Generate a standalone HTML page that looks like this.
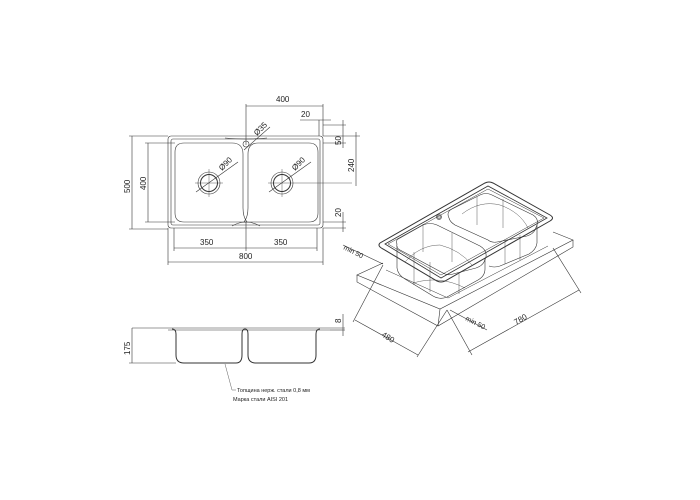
<!DOCTYPE html>
<html><head><meta charset="utf-8"><style>
html,body{margin:0;padding:0;background:#fff;}
svg{display:block;font-family:"Liberation Sans","Noto Sans CJK SC",sans-serif;}
text{font-size:8px;fill:#222;}
</style></head><body>
<svg width="700" height="500" viewBox="0 0 700 500" xmlns="http://www.w3.org/2000/svg">
<g fill="none" stroke="#333" stroke-width="0.6">
<!-- TOP VIEW -->
<rect x="168" y="136" width="155" height="92" rx="3"/>
<rect x="171" y="139" width="149" height="86" rx="2"/>
<path d="M184,143 H232 Q243,143 243,154 V208 Q243,217 247,222 H184 Q175,222 175,213 V152 Q175,143 184,143 Z"/>
<path d="M258,143 H309 Q318,143 318,152 V213 Q318,222 309,222 H244 Q248,217 248,208 V154 Q248,143 258,143 Z"/>
<path d="M225,138 Q246,140 267,138"/>
<path d="M232,226 Q246,218 260,226"/>
<circle cx="246" cy="144" r="3"/>
<circle cx="209" cy="183" r="11"/><circle cx="209" cy="183" r="8.5" stroke-width="1"/>
<circle cx="282" cy="183" r="11"/><circle cx="282" cy="183" r="8.5" stroke-width="1"/>
<line x1="209" y1="169" x2="209" y2="197" stroke-width="0.4"/><line x1="195" y1="183" x2="223" y2="183" stroke-width="0.4"/>
<line x1="282" y1="169" x2="282" y2="197" stroke-width="0.4"/><line x1="268" y1="183" x2="352" y2="183" stroke-width="0.4"/>
<line x1="196" y1="192" x2="238" y2="162"/><line x1="269" y1="192" x2="311" y2="162"/>
<line x1="244" y1="150" x2="270" y2="127"/>
<!-- dims top -->
<line x1="246" y1="104" x2="246" y2="145"/>
<line x1="323" y1="104" x2="323" y2="136"/>
<line x1="246" y1="106" x2="323" y2="106"/>
<line x1="300" y1="120" x2="331" y2="120"/>
<line x1="319" y1="120" x2="319" y2="136"/>
<!-- dims right -->
<line x1="323" y1="125" x2="346" y2="125"/>
<line x1="323" y1="136" x2="360" y2="136"/>
<line x1="343" y1="120" x2="343" y2="148"/>
<line x1="323" y1="143" x2="346" y2="143"/>
<line x1="356" y1="132" x2="356" y2="186"/>
<line x1="323" y1="222" x2="346" y2="222"/>
<line x1="323" y1="228" x2="346" y2="228"/>
<line x1="343" y1="212" x2="343" y2="232"/>
<!-- dims left -->
<line x1="129" y1="136" x2="168" y2="136"/>
<line x1="129" y1="229" x2="168" y2="229"/>
<line x1="132" y1="136" x2="132" y2="229"/>
<line x1="145" y1="143" x2="175" y2="143"/>
<line x1="145" y1="222" x2="175" y2="222"/>
<line x1="148" y1="143" x2="148" y2="222"/>
<!-- dims bottom -->
<line x1="174" y1="228" x2="174" y2="251"/>
<line x1="246" y1="222" x2="246" y2="251"/>
<line x1="317" y1="228" x2="317" y2="251"/>
<line x1="174" y1="248" x2="317" y2="248"/>
<line x1="168" y1="228" x2="168" y2="265"/>
<line x1="323" y1="228" x2="323" y2="265"/>
<line x1="168" y1="262" x2="323" y2="262"/>
<!-- SIDE VIEW -->
<line x1="132" y1="328" x2="345" y2="328"/>
<line x1="168" y1="330" x2="330" y2="330"/>
<path d="M172,329 Q176,329 176,334 V355 Q176,363 184,363 H236 Q242,363 242,355 V334 Q242,329 245,329 Q248,329 248,334 V355 Q248,363 256,363 H309 Q316,363 316,355 V334 Q316,329 320,329" stroke-width="1"/>
<line x1="132" y1="328" x2="132" y2="363"/>
<line x1="129" y1="363" x2="176" y2="363"/>
<line x1="330" y1="330" x2="345" y2="330"/>
<line x1="343" y1="314" x2="343" y2="336"/>
<path d="M225,364 L232,390 H236" stroke-width="0.4"/>
<!-- ISO: slab -->
<path d="M383,263 L357,275 L440,309 L573,240 L553,232"/>
<path d="M357,275 V282 L438,326 L573,247 V240"/>
<line x1="440" y1="309" x2="438" y2="326"/>
<path d="M386,270 L448,298 L548,246" stroke-width="0.5"/>
<!-- rim -->
<path d="M380,243 L485,183 Q489,181 493,183 L550,215 Q555,218 550,221 L445,281 Q441,283 437,281 L383,249 Q377,246 380,243 Z" stroke-width="1"/>
<path d="M385,244 L488,186 L547,218 L441,278 Z" stroke-width="0.8"/>
<path d="M388,244 L488,189 L544,218 L441,275 Z" stroke-width="0.5"/>
<!-- left bowl -->
<path d="M397,244 Q395,240 400,238 L423,225 Q430,222 437,225 L480,246 Q487,250 486,257 L484,262 Q482,266 476,268 L453,274 Q448,276 443,273 L400,250 Q396,248 397,244 Z"/>
<path d="M397,246 V268 Q398,275 405,279 L433,296 Q440,300 447,297 L478,280 Q485,276 485,269 V258"/>
<path d="M405,262 Q420,245 440,245 Q460,250 472,265" stroke-width="0.4"/>
<path d="M413,283 Q440,275 465,288" stroke-width="0.4"/>
<line x1="423" y1="224" x2="423" y2="252" stroke-width="0.4"/>
<line x1="452" y1="233" x2="452" y2="262" stroke-width="0.4"/>
<line x1="430" y1="262" x2="430" y2="292" stroke-width="0.4"/>
<line x1="459" y1="274" x2="459" y2="294" stroke-width="0.4"/>
<line x1="414" y1="252" x2="414" y2="285" stroke-width="0.4"/>
<!-- right bowl -->
<path d="M449,218 Q446,212 452,209 L480,195 Q486,192 492,195 L533,215 Q539,219 537,225 L535,230 Q533,234 527,236 L497,242 Q492,243 488,240 L455,225 Q450,222 449,218 Z"/>
<path d="M537,225 V243 Q536,250 529,254 L500,266 Q494,268 489,266"/>
<path d="M462,214 Q480,200 500,205 Q520,212 528,228" stroke-width="0.4"/>
<line x1="477" y1="197" x2="477" y2="225" stroke-width="0.4"/>
<line x1="503" y1="199" x2="503" y2="228" stroke-width="0.4"/>
<line x1="520" y1="235" x2="520" y2="260" stroke-width="0.4"/>
<line x1="505" y1="240" x2="505" y2="264" stroke-width="0.4"/>
<circle cx="439" cy="217" r="2.5"/>
<circle cx="439" cy="217" r="1.3"/>
<!-- iso dims -->
<line x1="383" y1="265" x2="353" y2="322"/>
<line x1="447" y1="310" x2="417" y2="357"/>
<line x1="355" y1="320" x2="418" y2="355"/>
<line x1="447" y1="310" x2="472" y2="355"/>
<line x1="553" y1="248" x2="581" y2="293"/>
<line x1="468" y1="352" x2="579" y2="290"/>
<line x1="343" y1="245" x2="383" y2="264"/>
<line x1="450" y1="310" x2="487" y2="330"/>
</g>
<g>
<text x="276" y="102">400</text>
<text x="301" y="117">20</text>
<text transform="translate(257,136) rotate(-45)">Ø35</text>
<text transform="translate(222,171) rotate(-45)">Ø90</text>
<text transform="translate(295,171) rotate(-45)">Ø90</text>
<text transform="translate(341,145) rotate(-90)">50</text>
<text transform="translate(354,172) rotate(-90)">240</text>
<text transform="translate(341,217) rotate(-90)">20</text>
<text transform="translate(130,193) rotate(-90)">500</text>
<text transform="translate(146,190) rotate(-90)">400</text>
<text x="200" y="245">350</text>
<text x="274" y="245">350</text>
<text x="239" y="259">800</text>
<text transform="translate(130,355) rotate(-90)">175</text>
<text transform="translate(341,323) rotate(-90)">8</text>
<text x="237" y="392" style="font-size:5.5px">Топщина нерж. стали 0,8 мм</text>
<text x="233" y="401" style="font-size:5.5px">Марка стали AISI 201</text>
<text transform="translate(343,249) rotate(27)" style="font-size:7px">min 50</text>
<text transform="translate(465,320) rotate(27)" style="font-size:7px">min 50</text>
<text transform="translate(381,336) rotate(32)">480</text>
<text transform="translate(516,325) rotate(-30)">780</text>
</g>
</svg>
</body></html>
